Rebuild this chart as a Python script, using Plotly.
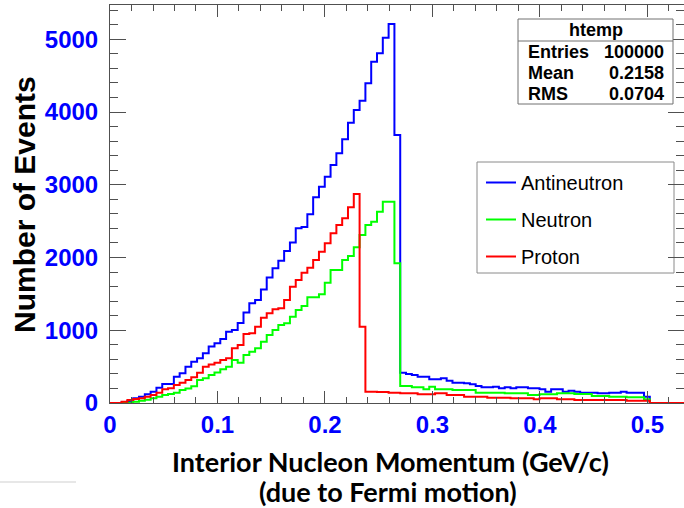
import numpy as np
import plotly.graph_objects as go

# Histogram binning: 100 equal bins of momentum (GeV/c)
BIN_WIDTH = 0.0054
N_BINS = 100

# Bin contents (events per bin), first bin starting at p = 0
antineutron = [
    0, 0, 10, 27, 64, 87, 119, 156, 211, 261,
    261, 362, 408, 500, 568, 614, 683, 775, 821, 880,
    980, 1004, 1100, 1245, 1370, 1416, 1560, 1725, 1852, 1955,
    2090, 2205, 2401, 2420, 2595, 2830, 2974, 3111, 3272, 3433,
    3625, 3854, 4028, 4156, 4395, 4692, 4808, 5022, 5210, 3684,
    417, 399, 385, 362, 362, 325, 325, 339, 307, 279,
    279, 270, 257, 234, 216, 216, 224, 202, 216, 202,
    216, 216, 202, 202, 190, 156, 188, 188, 156, 170,
    156, 142, 142, 142, 133, 133, 142, 142, 156, 142,
    142, 142, 87, 0, 0, 0, 0, 0, 0, 0,
]
neutron = [
    0, 0, 0, 5, 18, 30, 45, 64, 87, 110,
    125, 142, 179, 200, 230, 316, 340, 385, 420, 463,
    500, 591, 554, 660, 705, 752, 843, 935, 1004, 1072,
    1095, 1187, 1279, 1334, 1455, 1455, 1494, 1654, 1828, 1828,
    1966, 2021, 2140, 2310, 2447, 2493, 2630, 2767, 2767, 1921,
    234, 234, 216, 216, 188, 224, 188, 188, 188, 179,
    179, 179, 179, 142, 142, 142, 142, 142, 133, 133,
    133, 133, 110, 110, 119, 119, 119, 133, 133, 133,
    124, 124, 124, 96, 96, 96, 87, 87, 87, 78,
    78, 78, 50, 0, 0, 0, 0, 0, 0, 0,
]
proton = [
    0, 0, 18, 41, 55, 64, 87, 110, 142, 188,
    202, 247, 279, 316, 353, 417, 500, 530, 554, 591,
    614, 752, 797, 949, 960, 1049, 1173, 1233, 1288, 1302,
    1416, 1599, 1691, 1791, 1859, 1966, 2080, 2195, 2333, 2447,
    2539, 2690, 2873, 1049, 156, 156, 150, 150, 142, 142,
    133, 133, 133, 119, 119, 119, 133, 133, 110, 110,
    110, 87, 87, 87, 87, 73, 73, 73, 73, 64,
    64, 64, 64, 50, 64, 64, 64, 50, 50, 50,
    41, 41, 41, 41, 41, 41, 41, 41, 41, 32,
    32, 32, 32, 0, 0, 0, 0, 0, 0, 0,
]

series_names = ["Antineutron", "Neutron", "Proton"]
series_values = [antineutron, neutron, proton]
series_colors = ["#0000ff", "#00ff00", "#ff0000"]

stat_title = "htemp"
stat_labels = ["Entries", "Mean", "RMS"]
stat_values = ["100000", "0.2158", "0.0704"]

x_title_lines = ["Interior Nucleon Momentum (GeV/c)", "(due to Fermi motion)"]
y_title = "Number of Events"

# Canvas / frame geometry (pixels)
W, H = 684, 508
L, R, T, B = 110, 0, 5, 105
PW, PH = W - L - R, H - T - B
X_RANGE = [0, 0.534]
Y_RANGE = [0, 5471]

FRAME = "#505050"
TICK_BLUE = "#0000ff"


def fx(px):
    """pixel x -> paper x"""
    return (px - L) / PW


def fy(py):
    """pixel y -> paper y"""
    return (H - B - py) / PH


edges = np.arange(N_BINS + 1) * BIN_WIDTH

fig = go.Figure()
for name, vals, col in zip(series_names, series_values, series_colors):
    fig.add_trace(go.Scatter(
        x=edges,
        y=list(vals) + [vals[-1]],
        mode="lines",
        line=dict(color=col, width=2, shape="hv"),
        name=name,
        legendgroup=name,
        hoverinfo="skip",
    ))

tick_font = dict(family="Liberation Sans", size=24, color=TICK_BLUE, weight="bold")

fig.update_layout(
    width=W, height=H,
    margin=dict(l=L, r=R, t=T, b=B, pad=0),
    paper_bgcolor="white",
    plot_bgcolor="white",
    showlegend=True,
    legend=dict(
        x=fx(481), y=fy(163), xanchor="left", yanchor="top",
        borderwidth=0, bgcolor="rgba(0,0,0,0)",
        font=dict(family="Liberation Sans", size=20, color="black"),
        tracegroupgap=8,
        itemwidth=30,
    ),
    xaxis=dict(
        range=X_RANGE, showgrid=False, zeroline=False,
        showline=True, linecolor=FRAME, linewidth=1, mirror="allticks",
        ticks="inside", ticklen=12, tickcolor=FRAME, tickwidth=1,
        tick0=0, dtick=0.1,
        minor=dict(ticks="inside", dtick=0.02, ticklen=6, tickcolor=FRAME, tickwidth=1),
        tickfont=tick_font,
        ticklabelstandoff=0,
    ),
    yaxis=dict(
        range=Y_RANGE, showgrid=False, zeroline=False,
        showline=True, linecolor=FRAME, linewidth=1, mirror="allticks",
        ticks="inside", ticklen=16, tickcolor=FRAME, tickwidth=1,
        tick0=0, dtick=1000,
        minor=dict(ticks="inside", dtick=200, ticklen=8, tickcolor=FRAME, tickwidth=1),
        tickfont=tick_font,
        ticklabelstandoff=6,
    ),
)

# Legend frame
fig.add_shape(type="rect", xref="paper", yref="paper",
              x0=fx(477), x1=fx(674), y0=fy(273), y1=fy(162),
              line=dict(color="#8a8a8a", width=1), fillcolor="white", layer="below")

# Axis titles
title_font = dict(family="Lato", size=27, color="black", weight="bold")
fig.add_annotation(
    text=x_title_lines[0], xref="paper", yref="paper",
    x=fx(390), y=fy(461), xanchor="center", yanchor="middle", showarrow=False,
    font=title_font,
)
fig.add_annotation(
    text=x_title_lines[1], xref="paper", yref="paper",
    x=fx(388), y=fy(491), xanchor="center", yanchor="middle", showarrow=False,
    font=title_font,
)
fig.add_annotation(
    text=y_title, xref="paper", yref="paper", textangle=-90,
    x=fx(25), y=fy(205), xanchor="center", yanchor="middle", showarrow=False,
    font=dict(family="Liberation Sans", size=30, color="black", weight="bold"),
)

# Statistics box
sx0, sx1, sy0, sy1, ssep = 518, 673, 19, 104, 41
fig.add_shape(type="rect", xref="paper", yref="paper",
              x0=fx(sx0), x1=fx(sx1), y0=fy(sy1), y1=fy(sy0),
              line=dict(color="#707070", width=1), fillcolor="white", layer="above")
fig.add_shape(type="line", xref="paper", yref="paper",
              x0=fx(sx0), x1=fx(sx1), y0=fy(ssep), y1=fy(ssep),
              line=dict(color="#707070", width=1), layer="above")
stat_font = dict(family="Liberation Sans", size=18, color="black", weight="bold")
fig.add_annotation(text=stat_title, xref="paper", yref="paper",
                   x=fx((sx0 + sx1) / 2), y=fy(30), xanchor="center", yanchor="middle",
                   showarrow=False, font=stat_font)
for i, (lab, val) in enumerate(zip(stat_labels, stat_values)):
    ry = 52 + 21 * i
    fig.add_annotation(text=lab, xref="paper", yref="paper",
                       x=fx(526), y=fy(ry), xanchor="left", yanchor="middle",
                       showarrow=False, font=stat_font)
    fig.add_annotation(text=val, xref="paper", yref="paper",
                       x=fx(666), y=fy(ry), xanchor="right", yanchor="middle",
                       showarrow=False, font=stat_font)

# thin rule at lower left of the page
fig.add_shape(type="line", xref="paper", yref="paper",
              x0=fx(0), x1=fx(76), y0=fy(482), y1=fy(482),
              line=dict(color="#cfcfcf", width=1))

fig.write_html("out.html")
